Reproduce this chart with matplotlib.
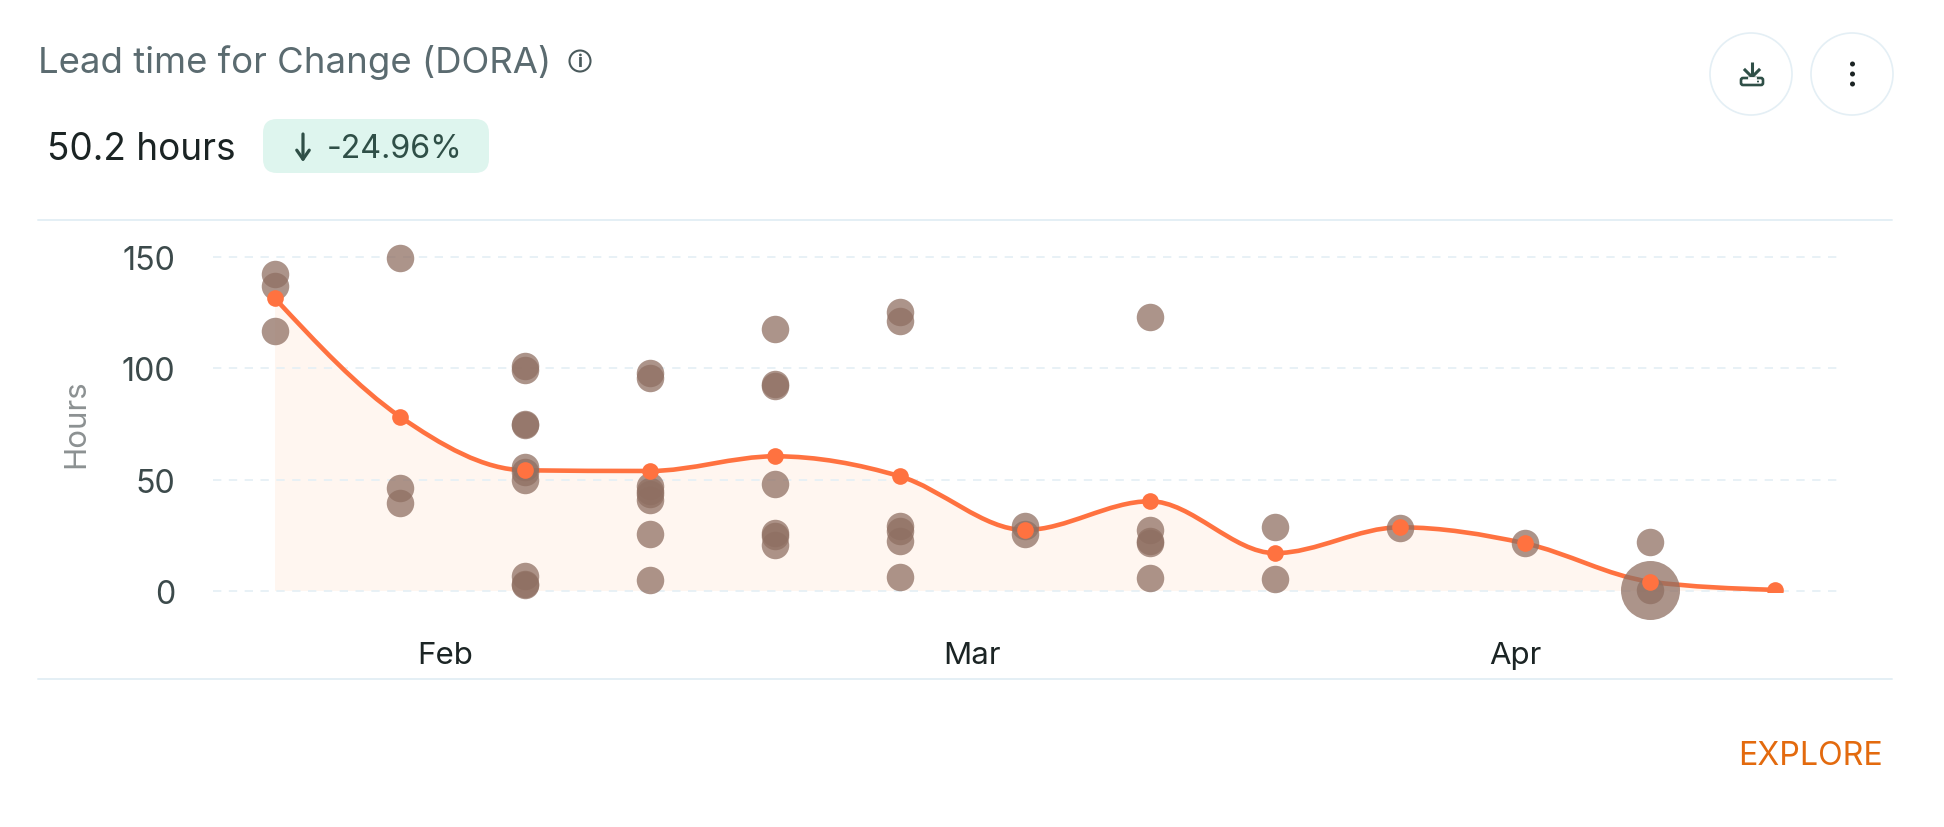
import matplotlib
matplotlib.use("Agg")
import matplotlib.pyplot as plt
import numpy as np
from matplotlib.path import Path
from matplotlib.patches import PathPatch, FancyBboxPatch, Circle

plt.rcParams['font.family'] = ['Inter', 'DejaVu Sans']

# Weekly lead time averages (hours)
avg_hours = [131.4, 78.3, 54.2, 53.9, 60.5, 51.5, 27.4, 40.3, 17.0, 28.6, 21.4, 4.2, 0.5]

# Individual changes per week (hours)
week_00 = [142.3, 136.8, 116.7]
week_01 = [149.5, 46.1, 39.5]
week_02 = [101.0, 99.4, 75.0, 74.6, 55.7, 53.3, 49.7, 6.6, 3.1, 2.9]
week_03 = [98.0, 95.8, 47.1, 45.0, 43.6, 40.9, 25.7, 5.1]
week_04 = [117.6, 93.0, 92.0, 47.9, 26.0, 24.8, 20.8]
week_05 = [125.3, 121.4, 29.3, 27.0, 22.6, 6.1]
week_06 = [29.3, 25.4]
week_07 = [123.0, 27.4, 22.6, 21.6, 5.8]
week_08 = [28.6, 5.4]
week_09 = [28.3]
week_10 = [21.5]
week_11 = [22.1, 0.6]
changes = [week_00, week_01, week_02, week_03, week_04, week_05,
           week_06, week_07, week_08, week_09, week_10, week_11]

# A cluster of very short changes shown as one wide bubble
cluster_week = [11]
cluster_hours = [0.6]

y_ticks = [0, 50, 100, 150]
month_labels = ["Feb", "Mar", "Apr"]
month_weeks = [1.36, 5.58, 9.92]

title = "Lead time for Change (DORA)"
headline = "50.2 hours"
delta = "-24.96%"

ORANGE = "#FF7240"
FILL = "#FFF6F0"
DOT = "#8F6F62"
RULE = "#E4EFF5"
W, H = 1944, 828

fig = plt.figure(figsize=(W / 100, H / 100), dpi=100, facecolor="white")


def axes_rect(x0, x1, y_top, y_bottom):
    return [x0 / W, 1 - y_bottom / H, (x1 - x0) / W, (y_bottom - y_top) / H]


ax = fig.add_axes(axes_rect(213, 1838, 258, 593), facecolor="none")
ax.set_xlim((213 - 275) / 125, (1838 - 275) / 125)
ax.set_ylim(-0.45, 150)


def monotone_path(xs, ys):
    """Monotone cubic through the points, as Bezier segments."""
    xs, ys = np.asarray(xs, float), np.asarray(ys, float)
    h = np.diff(xs)
    s = np.diff(ys) / h
    t = np.zeros_like(ys)
    for i in range(1, len(ys) - 1):
        p = (s[i - 1] * h[i] + s[i] * h[i - 1]) / (h[i - 1] + h[i])
        t[i] = (np.sign(s[i - 1]) + np.sign(s[i])) * min(abs(s[i - 1]), abs(s[i]), 0.5 * abs(p))
    t[0] = (3 * s[0] - t[1]) / 2
    t[-1] = (3 * s[-1] - t[-2]) / 2
    verts = [(xs[0], ys[0])]
    codes = [Path.MOVETO]
    for i in range(len(h)):
        d = h[i] / 3
        verts += [(xs[i] + d, ys[i] + d * t[i]),
                  (xs[i + 1] - d, ys[i + 1] - d * t[i + 1]),
                  (xs[i + 1], ys[i + 1])]
        codes += [Path.CURVE4] * 3
    return verts, codes


weeks = np.arange(len(avg_hours))
verts, codes = monotone_path(weeks, avg_hours)

# Area under the trend
area = Path(verts + [(weeks[-1], 0), (weeks[0], 0), (weeks[0], avg_hours[0])],
            codes + [Path.LINETO, Path.LINETO, Path.LINETO])
ax.add_patch(PathPatch(area, facecolor=FILL, edgecolor="none", zorder=1))

ax.yaxis.grid(True, color=RULE, lw=1.2, dashes=(5, 4.5), zorder=2)
ax.set_axisbelow(False)
for line in ax.get_ygridlines():
    line.set_zorder(2)
    line.set_clip_on(False)

# Trend line, individual changes, then the weekly markers
ax.add_patch(PathPatch(Path(verts, codes), facecolor="none", edgecolor=ORANGE,
                       lw=3.3, capstyle="round", zorder=3))
for i, hours in enumerate(changes):
    ax.scatter([i] * len(hours), hours, s=392, color=DOT, alpha=0.74,
               linewidths=0, clip_on=False, zorder=4)
ax.scatter(cluster_week, cluster_hours, s=1806, color=DOT, alpha=0.74,
           linewidths=0, clip_on=False, zorder=4)
ax.plot(weeks, avg_hours, ls="none", marker="o", ms=12, mfc=ORANGE, mec="none", zorder=5)

for side in ax.spines.values():
    side.set_visible(False)
ax.set_yticks(y_ticks)
ax.set_xticks(month_weeks, month_labels)
ax.tick_params(axis="y", length=0, pad=27, labelsize=23.2, labelcolor="#3C4A4B")
ax.tick_params(axis="x", length=0, pad=35.5, labelsize=22.5, labelcolor="#1B2424")
ax.set_ylabel("Hours", fontsize=22.5, color="#8C9192")
ax.yaxis.set_label_coords((90 - 213) / (1838 - 213), (593 - 424) / (593 - 258))

# Card furniture, laid out in pixel coordinates
ui = fig.add_axes([0, 0, 1, 1], facecolor="none")
ui.set_xlim(0, W)
ui.set_ylim(H, 0)
ui.axis("off")

ui.text(38, 62.5, title, fontsize=26.3, color="#5B6B70", va="center", ha="left")
ui.add_patch(Circle((580, 62), 10.5, fill=False, ec="#4A5A5C", lw=1.5))
ui.text(580, 62.5, "i", fontsize=13, color="#4A5A5C", ha="center", va="center", fontweight="bold")

ui.text(47, 150, headline, fontsize=26.6, color="#1B2424", va="center", ha="left")
ui.add_patch(FancyBboxPatch((263, 120), 226, 54, boxstyle="round,pad=0,rounding_size=14",
                            fc="#DEF5EE", ec="none", zorder=1))
ui.annotate("", xy=(303, 163), xytext=(303, 135), zorder=2,
            arrowprops=dict(arrowstyle="->,head_length=0.65,head_width=0.45", color="#2F4F47",
                            lw=2.3, shrinkA=0, shrinkB=0))
ui.text(327, 149.5, delta, fontsize=23.2, color="#2F4F47", va="center", ha="left", zorder=2)

for cx in (1751, 1852):
    ui.add_patch(Circle((cx, 75), 41, fill=False, ec=RULE, lw=1.2))

# Download glyph
ICON = "#2F4F47"
ui.plot([1752, 1752], [63, 78], color=ICON, lw=2.2, solid_capstyle="butt")
ui.plot([1745, 1752, 1759], [71, 78, 71], color=ICON, lw=2.2, solid_joinstyle="miter")
ui.add_patch(FancyBboxPatch((1741, 79), 22, 7, boxstyle="round,pad=0,rounding_size=2",
                            fc="none", ec=ICON, lw=1.9))
ui.plot([1749, 1755], [78.5, 78.5], color="white", lw=2.0)
ui.add_patch(Circle((1758, 82.5), 1, fc=ICON, ec="none"))

# Overflow glyph
for cy in (65, 75, 85):
    ui.add_patch(Circle((1852.5, cy), 2.5, fc="#1B2424", ec="none"))

ui.plot([38, 1892], [221, 221], color=RULE, lw=1.4, solid_capstyle="round")
ui.plot([38, 1892], [680, 680], color=RULE, lw=1.4, solid_capstyle="round")

ui.text(1883, 757, "EXPLORE", fontsize=23.1, color="#E36A0E", va="center", ha="right")

fig.savefig("out.png", dpi=100, facecolor="white")
